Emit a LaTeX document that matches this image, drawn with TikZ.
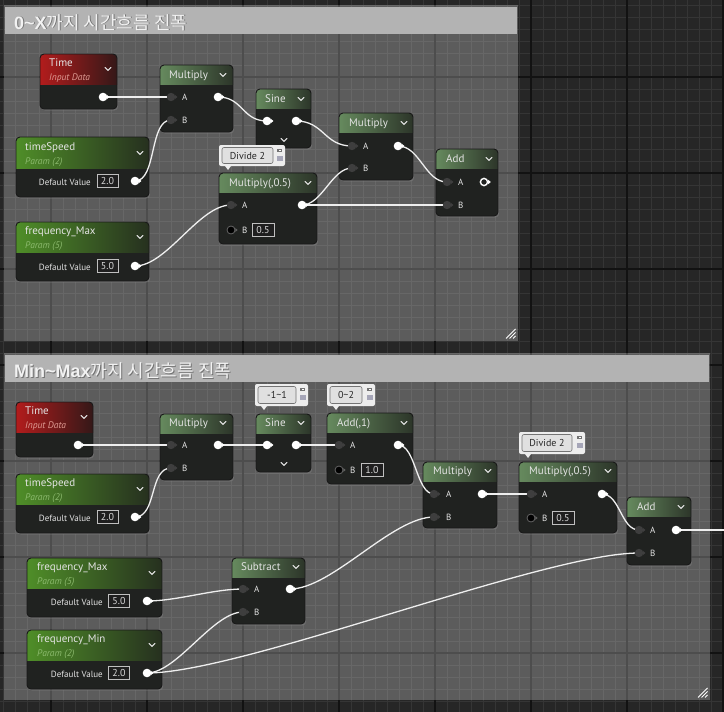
\documentclass[tikz,border=0pt]{standalone}
\usepackage{fontspec}
\setmainfont{PT Sans}
\newfontfamily\krfont{Noto Sans CJK KR}
\newfontfamily\titlelat{Liberation Sans}
\usetikzlibrary{calc,shadows}

\definecolor{bg}{HTML}{262626}
\definecolor{gridminor}{HTML}{353535}
\definecolor{gridmajor}{HTML}{121212}
\definecolor{titlebar}{HTML}{B3B3B3}
\definecolor{nbody}{HTML}{202220}
\definecolor{opL}{HTML}{668A5E}
\definecolor{opM}{HTML}{4E6A48}
\definecolor{opR}{HTML}{2C3529}
\definecolor{parL}{HTML}{4F8E28}
\definecolor{parM}{HTML}{3A6420}
\definecolor{parR}{HTML}{26301F}
\definecolor{redL}{HTML}{B21C1C}
\definecolor{redM}{HTML}{7A1616}
\definecolor{redR}{HTML}{341818}
\definecolor{txt}{HTML}{E4E4E4}
\definecolor{pinI}{HTML}{3E3E3E}
\definecolor{wirec}{HTML}{EEEEEE}
\definecolor{partxt}{HTML}{8CBA6E}
\definecolor{redtxt}{HTML}{DE9A92}

\tikzset{
  minorline/.style={gridminor, line width=1pt},
  majorline/.style={gridmajor, line width=2pt},
  nodebody/.style={fill=nbody, rounded corners=4pt, inner sep=0pt, outer sep=0pt, draw=none,
    drop shadow={opacity=0.45, shadow xshift=1.2pt, shadow yshift=-1.6pt}},
  nodeframe/.style={draw=black!90, line width=0.9pt, rounded corners=4pt},
  ophead/.style={left color=opL, middle color=opM, right color=opR},
  parhead/.style={left color=parL, middle color=parM, right color=parR},
  redhead/.style={left color=redL, middle color=redM, right color=redR},
  ttl/.style={text=txt, font=\fontsize{11}{12}\selectfont, inner sep=0pt, anchor=base west, yshift=-3.9pt},
  subt/.style={font=\fontsize{9.5}{10}\selectfont\itshape, inner sep=0pt, anchor=base west, yshift=-3.3pt},
  pinlbl/.style={text=txt, font=\fontsize{9}{10}\selectfont, inner sep=0pt, anchor=base west, yshift=-3.2pt},
  dvlbl/.style={pinlbl, anchor=base east},
  valbox/.style={draw=black!25, line width=0.6pt, fill=black!88, text=black!15,
    font=\fontsize{10}{11}\selectfont, inner sep=0pt, minimum height=13pt, minimum width=21pt},
  wire/.style={draw=wirec, line width=1.3pt},
  chev/.style={draw=white!90!black, line width=1.1pt, line cap=round, line join=round},
  bubbleout/.style={fill=white!93!black, rounded corners=2pt},
  bubblein/.style={draw=black!55, fill=white!88!black, line width=0.6pt, rounded corners=2pt},
  bubbletxt/.style={text=black!85, font=\fontsize{10}{11}\selectfont, inner sep=0pt},
  cttl/.style={font=\fontsize{18}{19}\selectfont, inner sep=0pt, anchor=base west},
}

\newcommand\uenode[7]{%
  \node[nodebody, minimum width=#4pt, minimum height=#5pt, anchor=north west] (#1) at (#2,#3) {};
  \begin{scope}
    \clip[rounded corners=4pt] (#1.north west) rectangle (#1.south east);
    \shade[#7] (#1.north west) rectangle ([yshift=-#6pt]#1.north east);
  \end{scope}
  \draw[nodeframe] (#1.north west) rectangle (#1.south east);
}
\newcommand\chv[2]{\draw[chev] ({#1-3},{#2-1.6}) -- ++(3,3) -- ++(3,-3);}
\newcommand\pinIn[1]{\fill[pinI] (#1) circle (4.2);
  \fill[pinI] ($(#1)+(3.6,-2.4)$) -- ++(2.8,2.4) -- ++(-2.8,2.4) -- cycle;}
\newcommand\pinOut[1]{\fill[white] (#1) circle (4.3);
  \fill[white] ($(#1)+(3.6,-2.4)$) -- ++(2.8,2.4) -- ++(-2.8,2.4) -- cycle;}
\newcommand\pinHollow[1]{\draw[white, line width=1.4pt] (#1) circle (3.6);
  \fill[white] ($(#1)+(4.2,-2.2)$) -- ++(2.6,2.2) -- ++(-2.6,2.2) -- cycle;}
\newcommand\pinVal[1]{\fill[black] (#1) circle (4); \draw[black!60, line width=0.8pt] (#1) circle (4);
  \fill[black!60] ($(#1)+(4.4,-1.8)$) -- ++(2.2,1.8) -- ++(-2.2,1.8) -- cycle;}
\newcommand\wire[3]{\draw[wire] (#1) .. controls +(#3,0) and +(-#3,0) .. (#2);}
% name, x1, y1, x2, y2, inner x2, text
\newcommand\bubble[7]{%
  \fill[bubbleout] (#2,#3) rectangle (#4,#5);
  \fill[white!93!black] ({#2+6},#5) -- ({#2+9},{#5+4}) -- ({#2+12},#5) -- cycle;
  \draw[bubblein] ({#2+3},{#3+2.5}) rectangle (#6,{#5-2.5});
  \node[bubbletxt] (#1) at ({(#2+3+#6)/2},{(#3+#5)/2}) {#7};
  \fill[black!55] ({#4-8},{#3+3.5}) rectangle ({#4-3},{#3+7});
  \fill[white] ({#4-6.5},{#3+4.5}) rectangle ({#4-4.5},{#3+6});
  \fill[blue!20!black!35] ({#4-8.5},{#3+11}) rectangle ({#4-2.5},{#3+16});
}
\newcommand\resizer[2]{%
  \foreach \k in {0,3.5,7}{\draw[white, line width=0.8pt] ({#1-11+\k},{#2-1.5}) -- ({#1-1.5},{#2-11+\k});}}

\begin{document}
\begin{tikzpicture}[x=1pt,y=-1pt]
\useasboundingbox (0,0) rectangle (724,712);
% background grid
\fill[bg] (0,0) rectangle (724,712);
\foreach \x in {3,15,...,723} \draw[minorline] (\x,0) -- (\x,712);
\foreach \y in {5,17,...,711} \draw[minorline] (0,\y) -- (724,\y);
\foreach \x in {51,147,...,723} \draw[majorline] (\x,0) -- (\x,712);
\foreach \y in {77,173,...,653} \draw[majorline] (0,\y) -- (724,\y);

% comment boxes
\fill[white, opacity=0.25] (4,5) rectangle (518,341);
\fill[titlebar] (5,7) rectangle (517,34);
\resizer{517}{340}
\node[cttl, text=black!55] at (15,30) {{\titlelat\bfseries 0\textasciitilde X}{\krfont 까지 시간흐름 진폭}};
\node[cttl, text=white!95!black] at (14,29) {{\titlelat\bfseries 0\textasciitilde X}{\krfont 까지 시간흐름 진폭}};

\fill[white, opacity=0.25] (4,353) rectangle (710,700);
\fill[titlebar] (5,355) rectangle (709,382);
\resizer{709}{699}
\node[cttl, text=black!55] at (15,378) {{\titlelat\bfseries Min\textasciitilde Max}{\krfont 까지 시간흐름 진폭}};
\node[cttl, text=white!95!black] at (14,377) {{\titlelat\bfseries Min\textasciitilde Max}{\krfont 까지 시간흐름 진폭}};

% ================= top graph nodes =================
\uenode{t1time}{40}{54}{77}{55}{30}{redhead}
\node[ttl] at (49,63) {Time};
\node[subt, text=redtxt] at (49,77) {Input Data};
\chv{108}{69}

\uenode{t1mul}{160}{65}{73}{67}{19}{ophead}
\node[ttl] at (169,75) {Multiply};
\chv{223}{75}
\node[pinlbl] at (182,97) {A};
\node[pinlbl] at (182,120) {B};

\uenode{t1sine}{256}{89}{55}{59}{19}{ophead}
\node[ttl] at (265,99) {Sine};
\chv{301}{99}
\chv{284}{140}

\uenode{t1mul2}{339}{113}{74}{67}{19}{ophead}
\node[ttl] at (349,123) {Multiply};
\chv{404}{123}
\node[pinlbl] at (363,146) {A};
\node[pinlbl] at (363,168) {B};

\uenode{t1add}{436}{149}{62}{67}{19}{ophead}
\node[ttl] at (446,159) {Add};
\chv{489}{159}
\node[pinlbl] at (458,182) {A};
\node[pinlbl] at (458,205) {B};

\uenode{t1m05}{219}{173}{98}{71}{19}{ophead}
\node[ttl] at (229,183) {Multiply(,0.5)};
\chv{308}{183}
\node[pinlbl] at (242,205) {A};
\node[pinlbl] at (242,230) {B};
\node[valbox, minimum width=22pt] (t1m05v) at (263,230) {0.5};

\uenode{t1ts}{16}{137}{133}{60}{31}{parhead}
\node[ttl] at (25,147) {timeSpeed};
\node[subt, text=partxt] at (25,161) {Param (2)};
\chv{140}{153}
\node[dvlbl] at (91,182) {Default Value};
\node[valbox] (t1tsv) at (107.5,181) {2.0};

\uenode{t1fm}{16}{222}{133}{59}{30}{parhead}
\node[ttl] at (25,231) {frequency\_Max};
\node[subt, text=partxt] at (25,245) {Param (5)};
\chv{140}{237}
\node[dvlbl] at (91,267) {Default Value};
\node[valbox] (t1fmv) at (107.5,266) {5.0};

\bubble{t1cm}{219}{145}{285}{166}{273}{Divide 2}

% ================= bottom graph nodes =================
\uenode{b1time}{16}{402}{77}{55}{30}{redhead}
\node[ttl] at (25,411) {Time};
\node[subt, text=redtxt] at (25,425) {Input Data};
\chv{84}{417}

\uenode{b1mul}{160}{414}{73}{66}{19}{ophead}
\node[ttl] at (169,423) {Multiply};
\chv{223}{423}
\node[pinlbl] at (182,445) {A};
\node[pinlbl] at (182,468) {B};

\uenode{b1sine}{256}{414}{55}{58}{19}{ophead}
\node[ttl] at (265,423) {Sine};
\chv{301}{423}
\chv{284}{464}

\uenode{b1add1}{327}{413}{86}{71}{19}{ophead}
\node[ttl] at (337,423) {Add(,1)};
\chv{404}{423}
\node[pinlbl] at (350,445) {A};
\node[pinlbl] at (350,470) {B};
\node[valbox, minimum width=22pt] (b1add1v) at (372,470) {1.0};

\uenode{b1mul3}{423}{462}{74}{66}{19}{ophead}
\node[ttl] at (433,471) {Multiply};
\chv{488}{471}
\node[pinlbl] at (446,494) {A};
\node[pinlbl] at (446,517) {B};

\uenode{b1m05}{519}{462}{98}{71}{19}{ophead}
\node[ttl] at (529,471) {Multiply(,0.5)};
\chv{608}{471}
\node[pinlbl] at (542,494) {A};
\node[pinlbl] at (542,518) {B};
\node[valbox, minimum width=22pt] (b1m05v) at (563,518) {0.5};

\uenode{b1add}{627}{497}{64}{68}{19}{ophead}
\node[ttl] at (637,507) {Add};
\chv{681}{507}
\node[pinlbl] at (650,530) {A};
\node[pinlbl] at (650,553) {B};

\uenode{b1ts}{16}{474}{133}{59}{30}{parhead}
\node[ttl] at (25,483) {timeSpeed};
\node[subt, text=partxt] at (25,497) {Param (2)};
\chv{140}{489}
\node[dvlbl] at (91,518) {Default Value};
\node[valbox] (b1tsv) at (107.5,517) {2.0};

\uenode{b1fmax}{27}{558}{135}{59}{30}{parhead}
\node[ttl] at (37,567) {frequency\_Max};
\node[subt, text=partxt] at (37,581) {Param (5)};
\chv{152}{573}
\node[dvlbl] at (103,602) {Default Value};
\node[valbox] (b1fmaxv) at (119,601) {5.0};

\uenode{b1fmin}{27}{630}{135}{59}{30}{parhead}
\node[ttl] at (37,639) {frequency\_Min};
\node[subt, text=partxt] at (37,653) {Param (2)};
\chv{152}{645}
\node[dvlbl] at (103,674) {Default Value};
\node[valbox] (b1fminv) at (119,673) {2.0};

\uenode{b1sub}{232}{558}{73}{66}{19}{ophead}
\node[ttl] at (241,567) {Subtract};
\chv{296}{567}
\node[pinlbl] at (254,589) {A};
\node[pinlbl] at (254,612) {B};

\bubble{b1cm1}{255}{384}{308}{406}{296}{-1\textasciitilde 1}
\bubble{b1cm2}{327}{384}{375}{406}{362}{0\textasciitilde 2}
\bubble{b1cm3}{519}{432}{585}{454}{572}{Divide 2}

% ================= pin coordinates =================
\coordinate (t1timeo) at (103,97);
\coordinate (t1mula) at (171,97);
\coordinate (t1mulb) at (171,120);
\coordinate (t1mulo) at (218,97);
\coordinate (t1sinei) at (267,121);
\coordinate (t1sineo) at (296,121);
\coordinate (t1mul2a) at (352,146);
\coordinate (t1mul2b) at (352,168);
\coordinate (t1mul2o) at (398,146);
\coordinate (t1adda) at (447,182);
\coordinate (t1addb) at (447,205);
\coordinate (t1addo) at (484,182);
\coordinate (t1m05a) at (231,205);
\coordinate (t1m05b) at (231,230);
\coordinate (t1m05o) at (302,205);
\coordinate (t1tso) at (135,181);
\coordinate (t1fmo) at (135,266);

\coordinate (b1timeo) at (78,445);
\coordinate (b1mula) at (171,445);
\coordinate (b1mulb) at (171,468);
\coordinate (b1mulo) at (218,445);
\coordinate (b1sinei) at (267,445);
\coordinate (b1sineo) at (296,445);
\coordinate (b1add1a) at (339,445);
\coordinate (b1add1b) at (339,470);
\coordinate (b1add1o) at (398,445);
\coordinate (b1mul3a) at (434,494);
\coordinate (b1mul3b) at (434,517);
\coordinate (b1mul3o) at (482,494);
\coordinate (b1m05a) at (531,494);
\coordinate (b1m05b) at (531,518);
\coordinate (b1m05o) at (602,494);
\coordinate (b1adda) at (639,530);
\coordinate (b1addb) at (639,553);
\coordinate (b1addo) at (676,530);
\coordinate (b1exit) at (724,530);
\coordinate (b1tso) at (135,517);
\coordinate (b1fmaxo) at (147,601);
\coordinate (b1fmino) at (147,673);
\coordinate (b1suba) at (243,589);
\coordinate (b1subb) at (243,612);
\coordinate (b1subo) at (290,589);

% ================= wires =================
\wire{t1timeo}{t1mula}{20}
\wire{t1tso}{t1mulb}{22}
\wire{t1mulo}{t1sinei}{25}
\wire{t1sineo}{t1mul2a}{28}
\wire{t1fmo}{t1m05a}{32}
\wire{t1m05o}{t1mul2b}{20}
\wire{t1m05o}{t1addb}{30}
\wire{t1mul2o}{t1adda}{22}

\wire{b1timeo}{b1mula}{20}
\wire{b1tso}{b1mulb}{22}
\wire{b1mulo}{b1sinei}{20}
\wire{b1sineo}{b1add1a}{20}
\wire{b1add1o}{b1mul3a}{18}
\wire{b1subo}{b1mul3b}{42}
\wire{b1mul3o}{b1m05a}{20}
\wire{b1m05o}{b1adda}{18}
\wire{b1fmino}{b1addb}{95}
\wire{b1fmaxo}{b1suba}{30}
\wire{b1fmino}{b1subb}{30}
\draw[wire] (b1addo) -- (b1exit);

% ================= pins =================
\pinOut{t1timeo}
\pinIn{t1mula} \pinIn{t1mulb} \pinOut{t1mulo}
\pinOut{t1sinei} \pinOut{t1sineo}
\pinIn{t1mul2a} \pinIn{t1mul2b} \pinOut{t1mul2o}
\pinIn{t1adda} \pinIn{t1addb} \pinHollow{t1addo}
\pinIn{t1m05a} \pinVal{t1m05b} \pinOut{t1m05o}
\pinOut{t1tso} \pinOut{t1fmo}

\pinOut{b1timeo}
\pinIn{b1mula} \pinIn{b1mulb} \pinOut{b1mulo}
\pinOut{b1sinei} \pinOut{b1sineo}
\pinIn{b1add1a} \pinVal{b1add1b} \pinOut{b1add1o}
\pinIn{b1mul3a} \pinIn{b1mul3b} \pinOut{b1mul3o}
\pinIn{b1m05a} \pinVal{b1m05b} \pinOut{b1m05o}
\pinIn{b1adda} \pinIn{b1addb} \pinOut{b1addo}
\pinOut{b1tso} \pinOut{b1fmaxo} \pinOut{b1fmino}
\pinIn{b1suba} \pinIn{b1subb} \pinOut{b1subo}
\end{tikzpicture}
\end{document}
